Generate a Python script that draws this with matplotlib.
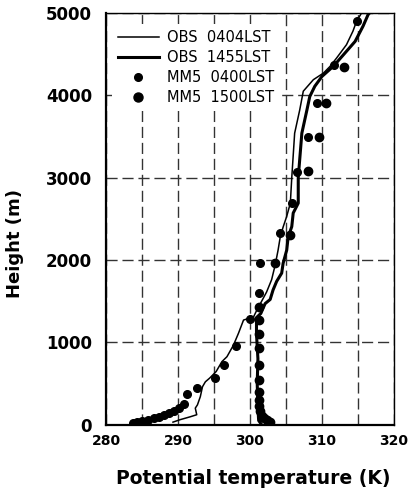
import matplotlib
matplotlib.use("Agg")
import matplotlib.pyplot as plt
from matplotlib.lines import Line2D

plt.rcParams['font.family'] = ['DejaVu Sans']

# observed soundings (potential temperature K, height m)
obs0404_T = [289.3, 290.3, 291.7, 292.6, 292.4, 292.7, 293.1, 293.4, 293.8, 294.4,
             295.3, 296.1, 296.8, 297.7, 298.4, 299.1, 300.5, 301.0, 301.5, 302.3,
             303.0, 303.5, 303.9, 304.2, 304.6, 305.1, 305.6, 305.8, 306.2, 306.9,
             307.4, 308.8, 310.2, 311.1, 312.0, 313.4, 314.3, 314.8, 315.5]
obs0404_H = [30, 60, 95, 120, 200, 240, 340, 460, 520, 565,
             645, 765, 825, 965, 1110, 1270, 1310, 1400, 1480, 1610,
             1760, 1940, 2120, 2280, 2400, 2530, 2690, 3000, 3540, 3820,
             4050, 4190, 4270, 4350, 4450, 4615, 4780, 4900, 5000]

obs1455_T = [301.6, 301.2, 301.1, 301.0, 301.1, 300.9, 300.9, 301.5, 302.1, 302.8,
             303.2, 303.7, 304.4, 304.6, 305.1, 305.3, 305.8, 306.0, 306.7, 306.7,
             307.2, 307.9, 308.3, 309.0, 310.0, 311.6, 313.0, 314.6, 315.7, 316.4, 316.9]
obs1455_H = [0, 50, 200, 500, 800, 1100, 1300, 1350, 1470, 1520,
             1635, 1740, 1840, 1960, 2120, 2280, 2405, 2570, 2690, 3000,
             3540, 3820, 3985, 4110, 4230, 4355, 4495, 4655, 4840, 4980, 5030]

# MM5 model profiles
mm0400_T = [283.7, 284.3, 285.0, 285.8, 286.6, 287.3, 288.0, 288.7, 289.4, 290.1,
            290.8, 291.3, 292.6, 295.2, 296.4, 298.0, 300.0, 301.25, 301.4, 304.2,
            305.9, 306.5, 308.1, 309.3, 311.6, 314.8]
mm0400_H = [25, 35, 45, 60, 75, 95, 115, 140, 170, 205,
            250, 368, 448, 563, 724, 959, 1280, 1603, 1960, 2325,
            2689, 3073, 3490, 3905, 4370, 4900]

mm1500_T = [302.8, 302.3, 301.9, 301.6, 301.4, 301.3, 301.3, 301.2, 301.2, 301.3,
            301.2, 301.2, 301.3, 301.2, 303.5, 305.6, 308.1, 309.6, 310.6, 313.0]
mm1500_H = [30, 50, 75, 110, 160, 220, 300, 400, 542, 724,
            930, 1100, 1271, 1433, 1960, 2305, 3080, 3490, 3905, 4345]

fig = plt.figure(figsize=(4.13, 5.0), dpi=100)
ax = fig.add_axes([0.2567, 0.1508, 0.6973, 0.8232])

ax.plot(obs0404_T, obs0404_H, color='black', lw=1.1, zorder=3)
ax.plot(obs1455_T, obs1455_H, color='black', lw=2.2, zorder=3)
ax.plot(mm0400_T, mm0400_H, 'o', color='black', ms=5.5, ls='none', zorder=4)
ax.plot(mm1500_T, mm1500_H, 'o', color='black', ms=6.0, ls='none', zorder=4)

ax.set_xlim(280, 320)
ax.set_ylim(0, 5000)
ax.set_xticks([280, 290, 300, 310, 320])
ax.set_xticks([285, 295, 305, 315], minor=True)
ax.set_yticks([0, 1000, 2000, 3000, 4000, 5000])
ax.grid(True, which='both', color='#333333', ls=(0, (8, 3.5)), lw=1.0, zorder=1)
ax.tick_params(which='both', length=0)
ax.tick_params(axis='y', pad=10)
ax.tick_params(axis='x', pad=7)
for lab in ax.get_xticklabels():
    lab.set_fontsize(10)
    lab.set_fontweight('bold')
for lab in ax.get_yticklabels():
    lab.set_fontsize(12)
    lab.set_fontweight('bold')

for s in ['left', 'bottom']:
    ax.spines[s].set_linewidth(1.6)
for s in ['top', 'right']:
    ax.spines[s].set_linewidth(1.0)

ax.set_xlabel('Potential temperature (K)', fontsize=13.5, fontweight='bold')
ax.set_ylabel('Height (m)', fontsize=13, fontweight='bold')
ax.xaxis.set_label_coords(0.51, -0.108)
ax.yaxis.set_label_coords(-0.285, 0.44)

handles = [
    Line2D([], [], color='black', lw=1.1),
    Line2D([], [], color='black', lw=2.2),
    Line2D([], [], marker='o', color='black', ms=5.5, ls='none'),
    Line2D([], [], marker='o', color='black', ms=6.5, ls='none'),
]
labels = ['OBS  0404LST', 'OBS  1455LST', 'MM5  0400LST', 'MM5  1500LST']
leg = ax.legend(handles, labels, loc='upper left', bbox_to_anchor=(0.0, 0.988),
                frameon=True, fancybox=False, edgecolor='none', facecolor='white',
                framealpha=1.0, fontsize=10.5, handlelength=2.8, handletextpad=0.6,
                labelspacing=0.35, borderaxespad=0.4)
leg.set_zorder(5)

fig.savefig('out.png', dpi=100)
